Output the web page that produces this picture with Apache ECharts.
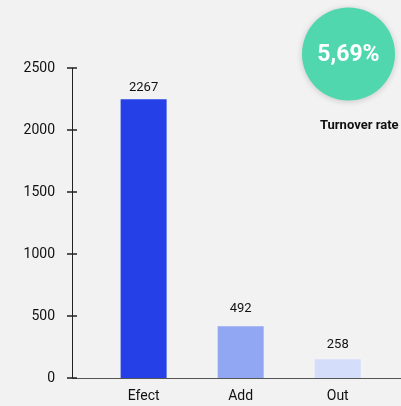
<!DOCTYPE html>
<html><head><meta charset="utf-8">
<script src="https://cdn.jsdelivr.net/npm/echarts@6/dist/echarts.min.js"></script>
<style>html,body{margin:0;padding:0;background:#f2f2f2;}#c{width:401px;height:406px;}</style>
</head><body><div id="c"></div>
<script>
const categories = ['Efect', 'Add', 'Out'];
const barValues = [2248, 417, 151];
const labelValues = ['2267', '492', '258'];
const yTicks = [0, 500, 1000, 1500, 2000, 2500];
const turnoverValue = '5,69%';
const turnoverLabel = 'Turnover rate';
const barColors = ['#2440e6', '#91a7f3', '#d4ddfa'];
const labelDistances = [5, 11, 8];

const FONT = 'Roboto';
const chart = echarts.init(document.getElementById('c'), null, {renderer: 'canvas'});
chart.setOption({
  backgroundColor: '#f2f2f2',
  animation: false,
  grid: {left: 72, right: 0, top: 68, bottom: 28, containLabel: false},
  xAxis: {
    type: 'value', min: 0.262, max: 3.652,
    splitLine: {show: false},
    axisLine: {show: true, lineStyle: {color: '#555', width: 1}},
    axisTick: {show: false},
    axisLabel: {
      customValues: categories.map((c, i) => i + 1),
      formatter: v => categories[Math.round(v) - 1] || '',
      color: '#111', fontFamily: FONT, fontSize: 14, margin: 11
    }
  },
  yAxis: [{
    type: 'value', min: 0, max: 2500, interval: 500,
    splitLine: {show: false},
    axisLine: {show: true, lineStyle: {color: '#222', width: 1}},
    axisTick: {show: false},
    axisLabel: {color: '#111', fontFamily: FONT, fontSize: 14, margin: 17,
      customValues: yTicks, formatter: v => String(v)}
  }, {
    type: 'value', min: 0, max: 2500, interval: 500, position: 'left', offset: -5,
    splitLine: {show: false},
    axisLine: {show: false},
    axisTick: {show: true, length: 10, lineStyle: {color: '#222', width: 1.5}},
    axisLabel: {show: false}
  }],
  series: [{
    type: 'bar', yAxisIndex: 0, barWidth: 46,
    data: barValues.map((v, i) => ({
      value: [i + 1, v],
      itemStyle: {color: barColors[i]},
      label: {distance: labelDistances[i]}
    })),
    label: {
      show: true, position: 'top', color: '#111', fontFamily: FONT, fontSize: 13,
      formatter: p => labelValues[p.dataIndex]
    }
  }],
  graphic: [{
    type: 'circle', shape: {cx: 348.5, cy: 54, r: 46.5},
    style: {fill: '#50d7ae', shadowBlur: 6, shadowColor: 'rgba(0,0,0,0.18)', shadowOffsetY: 1}
  }, {
    type: 'text', x: 348.5, y: 55,
    style: {text: turnoverValue, fill: '#fff', font: 'bold 23px ' + FONT, align: 'center', verticalAlign: 'middle'}
  }, {
    type: 'text', x: 320, y: 126,
    style: {text: turnoverLabel, fill: '#111', font: 'bold 13px ' + FONT, align: 'left', verticalAlign: 'middle'}
  }]
});
</script></body></html>
